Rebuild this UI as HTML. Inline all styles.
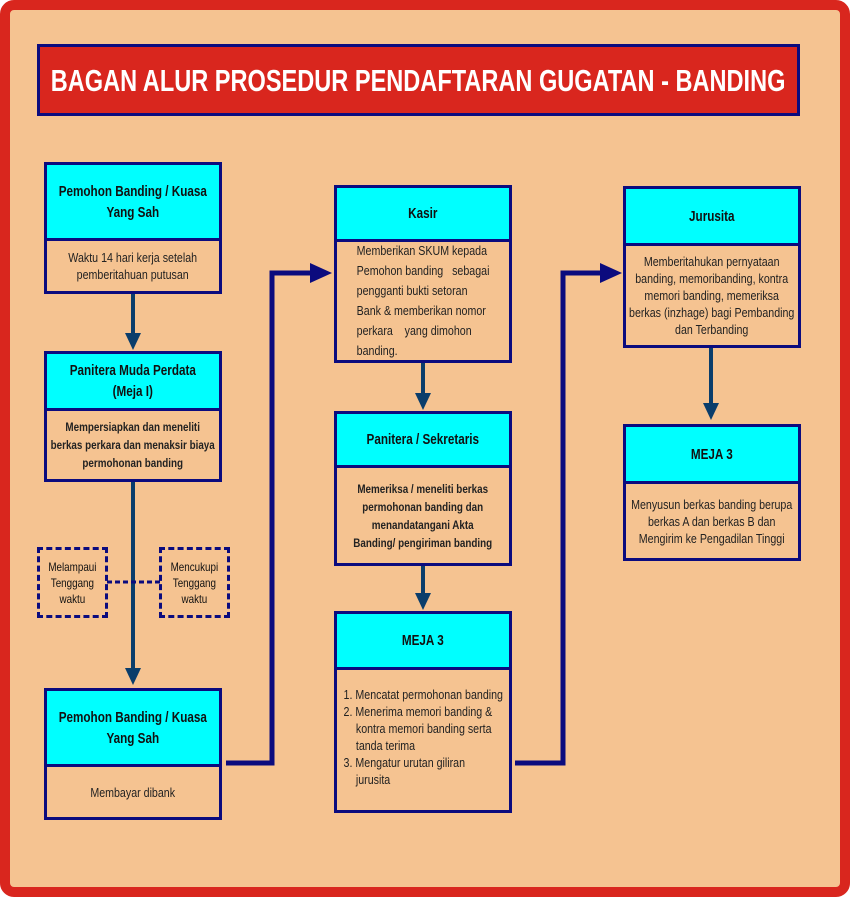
<!DOCTYPE html>
<html><head><meta charset="utf-8"><style>
*{margin:0;padding:0;box-sizing:border-box}
body{width:850px;height:897px;background:#fff;position:relative;overflow:hidden;font-family:"Liberation Sans",sans-serif;}
#frame{position:absolute;left:0;top:0;width:850px;height:897px;background:#F5C391;border:10px solid #D9261E;border-radius:14px}
#title{position:absolute;left:37px;top:44px;width:763px;height:72px;background:#D9261E;border:3px solid #0b0b7e;color:#fff;font-weight:bold;font-size:31px;line-height:68px;overflow:hidden}
#title .n{width:995px;text-align:center;transform:scaleX(.76);transform-origin:0 0;white-space:nowrap}
.box{position:absolute;border:3px solid #0b0b7e;background:#F5C391}
.hd{background:#00FFFF;border-bottom:3px solid #0b0b7e;display:flex;align-items:center;justify-content:flex-start;text-align:center;font-weight:bold;font-size:15px;color:#111;line-height:21px;overflow:hidden}
.bd{display:flex;align-items:center;justify-content:flex-start;text-align:center;font-size:13px;color:#222;line-height:17px;overflow:hidden}
.n{flex-shrink:0;width:209px;transform:scaleX(.82);transform-origin:0 50%}
.hd .n{width:220px;transform:scaleX(.78)}
.b{font-weight:bold;font-size:12px;line-height:18px}
.dash{position:absolute;border:3px dashed #0b0b7e;font-size:12px;line-height:16px;text-align:center;color:#111;display:flex;align-items:center;justify-content:flex-start;overflow:hidden}
.dash .n{width:79px}
svg{position:absolute;left:0;top:0}
</style></head><body>
<div id="frame"></div>
<div id="title"><div class="n">BAGAN ALUR PROSEDUR PENDAFTARAN GUGATAN - BANDING</div></div>
<svg width="850" height="897">
<g stroke="#0a3d6b" stroke-width="4" fill="#0a3d6b">
<line x1="133" y1="293" x2="133" y2="335"/><polygon points="125,333 141,333 133,350" stroke="none"/>
<line x1="133" y1="481" x2="133" y2="670"/><polygon points="125,668 141,668 133,685" stroke="none"/>
<line x1="423" y1="362" x2="423" y2="395"/><polygon points="415,393 431,393 423,410" stroke="none"/>
<line x1="423" y1="565" x2="423" y2="595"/><polygon points="415,593 431,593 423,610" stroke="none"/>
<line x1="711" y1="347" x2="711" y2="405"/><polygon points="703,403 719,403 711,420" stroke="none"/>
</g>
<g stroke="#0b0b7e" stroke-width="5" fill="none">
<polyline points="226,763 272,763 272,273 312,273"/>
<polyline points="515,763 563,763 563,273 602,273"/>
</g>
<g fill="#0b0b7e"><polygon points="310,263 332,273 310,283"/><polygon points="600,263 622,273 600,283"/></g>
<line x1="107" y1="582" x2="160" y2="582" stroke="#0b0b7e" stroke-width="3" stroke-dasharray="5,3"/>
</svg>
<div class="box" style="left:44px;top:162px;width:178px;height:132px">
<div class="hd" style="height:76px"><div class="n">Pemohon Banding / Kuasa<br>Yang Sah</div></div>
<div class="bd" style="height:50px"><div class="n">Waktu 14 hari kerja setelah<br>pemberitahuan putusan</div></div></div>
<div class="box" style="left:44px;top:351px;width:178px;height:131px">
<div class="hd" style="height:57px"><div class="n">Panitera Muda Perdata<br>(Meja I)</div></div>
<div class="bd b" style="height:68px"><div class="n">Mempersiapkan dan meneliti<br>berkas perkara dan menaksir biaya<br>permohonan banding</div></div></div>
<div class="dash" style="left:37px;top:547px;width:71px;height:71px"><div class="n">Melampaui<br>Tenggang<br>waktu</div></div>
<div class="dash" style="left:159px;top:547px;width:71px;height:71px"><div class="n">Mencukupi<br>Tenggang<br>waktu</div></div>
<div class="box" style="left:44px;top:688px;width:178px;height:132px">
<div class="hd" style="height:76px"><div class="n">Pemohon Banding / Kuasa<br>Yang Sah</div></div>
<div class="bd" style="height:50px"><div class="n">Membayar dibank</div></div></div>
<div class="box" style="left:334px;top:185px;width:178px;height:178px">
<div class="hd" style="height:54px"><div class="n">Kasir</div></div>
<div class="bd" style="height:118px"><div class="n" style="text-align:left;padding-left:24px;line-height:20px">Memberikan SKUM kepada<br>Pemohon banding &nbsp; sebagai<br>pengganti bukti setoran<br>Bank &amp; memberikan nomor<br>perkara &nbsp;&nbsp; yang dimohon<br>banding.</div></div></div>
<div class="box" style="left:334px;top:411px;width:178px;height:155px">
<div class="hd" style="height:54px"><div class="n">Panitera / Sekretaris</div></div>
<div class="bd b" style="height:95px"><div class="n">Memeriksa / meneliti berkas<br>permohonan banding dan<br>menandatangani Akta<br>Banding/ pengiriman banding</div></div></div>
<div class="box" style="left:334px;top:611px;width:178px;height:202px">
<div class="hd" style="height:56px"><div class="n">MEJA 3</div></div>
<div class="bd" style="height:140px;align-items:flex-start"><div class="n" style="text-align:left;padding:16px 4px 0 8px;line-height:17px">
<div style="padding-left:15px;text-indent:-15px">1. Mencatat permohonan banding</div>
<div style="padding-left:15px;text-indent:-15px">2. Menerima memori banding &amp;<br>kontra memori banding serta<br>tanda terima</div>
<div style="padding-left:15px;text-indent:-15px">3. Mengatur urutan giliran<br>jurusita</div></div></div></div>
<div class="box" style="left:623px;top:186px;width:178px;height:162px">
<div class="hd" style="height:57px"><div class="n">Jurusita</div></div>
<div class="bd" style="height:99px"><div class="n">Memberitahukan pernyataan<br>banding, memoribanding, kontra<br>memori banding, memeriksa<br>berkas (inzhage) bagi Pembanding<br>dan Terbanding</div></div></div>
<div class="box" style="left:623px;top:424px;width:178px;height:137px">
<div class="hd" style="height:57px"><div class="n">MEJA 3</div></div>
<div class="bd" style="height:74px"><div class="n">Menyusun berkas banding berupa<br>berkas A dan berkas B dan<br>Mengirim ke Pengadilan Tinggi</div></div></div>
</body></html>
